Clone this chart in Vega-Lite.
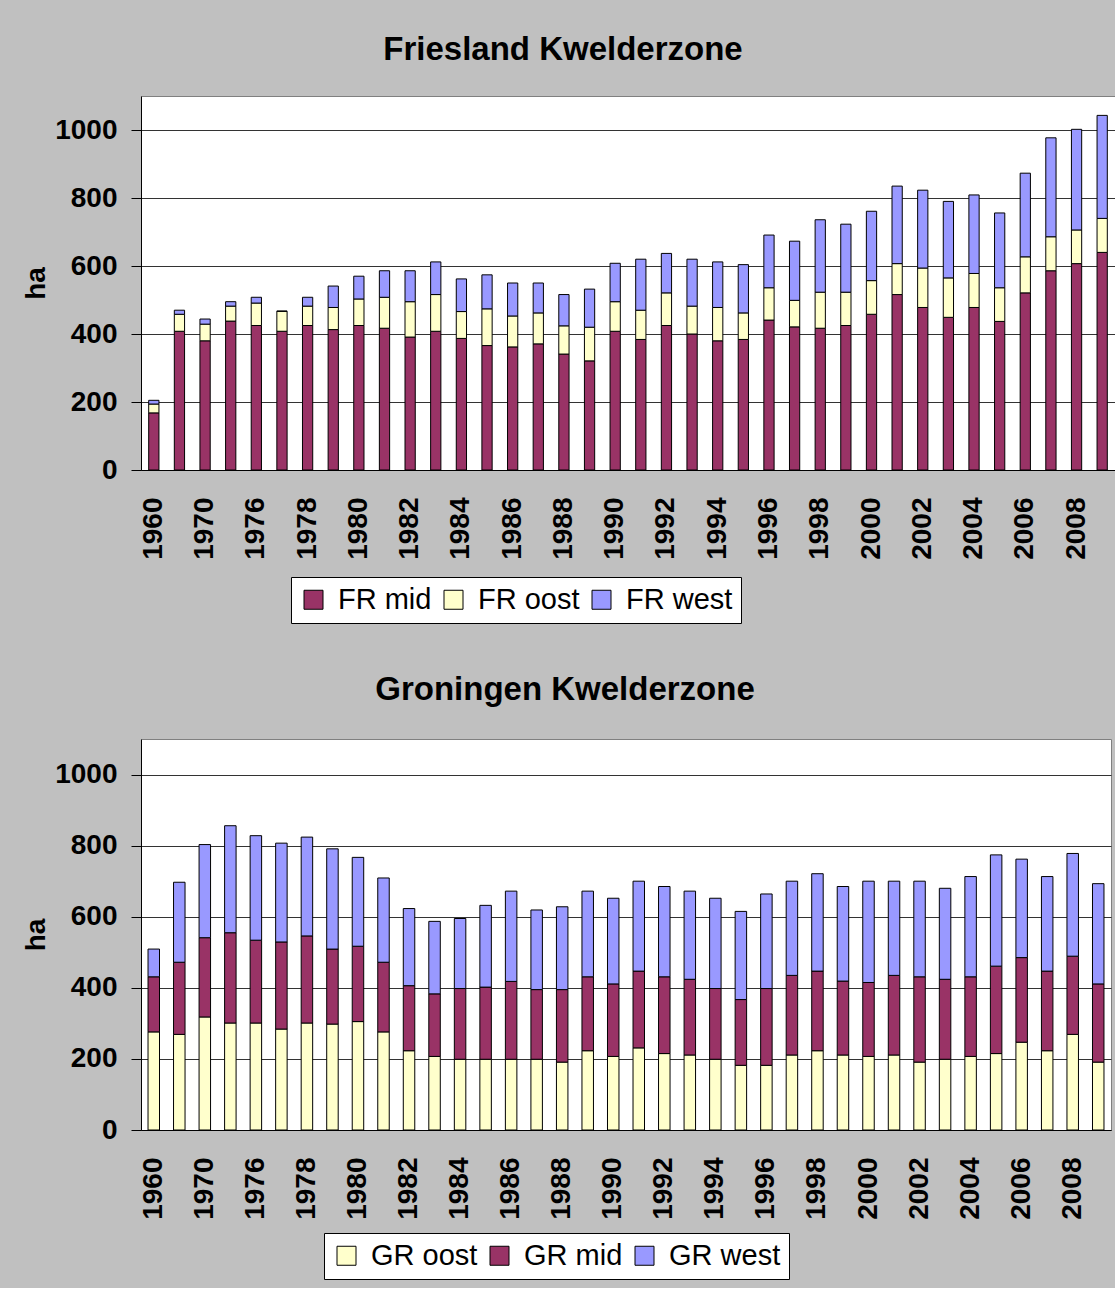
{
  "$schema": "https://vega.github.io/schema/vega-lite/v6.json",
  "background": "#c0c0c0",
  "padding": {"left": 22, "top": 33, "right": 0, "bottom": 8},
  "spacing": 49,
  "config": {
    "font": "Liberation Sans",
    "view": {"fill": "white", "stroke": "#808080", "strokeWidth": 1},
    "title": {"fontSize": 33, "fontWeight": "bold", "color": "black", "anchor": "middle", "offset": 29},
    "axisX": {"labelAngle": 270, "labelFontSize": 28, "labelFontWeight": "bold", "labelColor": "black", "domainColor": "black", "ticks": false, "labelPadding": 27, "grid": false},
    "axisY": {"labelFontSize": 28, "labelFontWeight": "bold", "labelColor": "black", "domainColor": "black", "tickColor": "black", "tickSize": 10, "labelPadding": 14, "gridColor": "#333333", "gridOpacity": 1, "titleFontSize": 28, "titleFontWeight": "bold", "titleColor": "black", "titlePadding": 4, "format": "d"},
    "legend": {"fillColor": "white", "strokeColor": "black", "padding": 8, "symbolType": "square", "symbolSize": 361, "symbolStrokeColor": "black", "symbolStrokeWidth": 1, "labelFontSize": 29, "labelColor": "black", "labelOffset": 10, "columnPadding": 7, "direction": "horizontal", "orient": "none", "title": null}
  },
  "datasets": {
    "grrank": [
      {"series": "GR oost", "rank": 1},
      {"series": "GR mid", "rank": 2},
      {"series": "GR west", "rank": 3}
    ],
    "fr": [
      {"year": "1960", "FR mid": 168, "FR oost": 26, "FR west": 11},
      {"year": "1965", "FR mid": 408, "FR oost": 50, "FR west": 12},
      {"year": "1970", "FR mid": 380, "FR oost": 49, "FR west": 15},
      {"year": "1975", "FR mid": 438, "FR oost": 44, "FR west": 13},
      {"year": "1976", "FR mid": 425, "FR oost": 66, "FR west": 17},
      {"year": "1977", "FR mid": 408, "FR oost": 59, "FR west": 0},
      {"year": "1978", "FR mid": 425, "FR oost": 57, "FR west": 26},
      {"year": "1979", "FR mid": 413, "FR oost": 65, "FR west": 63},
      {"year": "1980", "FR mid": 425, "FR oost": 78, "FR west": 67},
      {"year": "1981", "FR mid": 417, "FR oost": 91, "FR west": 78},
      {"year": "1982", "FR mid": 391, "FR oost": 104, "FR west": 91},
      {"year": "1983", "FR mid": 408, "FR oost": 108, "FR west": 96},
      {"year": "1984", "FR mid": 387, "FR oost": 79, "FR west": 96},
      {"year": "1985", "FR mid": 366, "FR oost": 108, "FR west": 100},
      {"year": "1986", "FR mid": 362, "FR oost": 91, "FR west": 97},
      {"year": "1987", "FR mid": 371, "FR oost": 91, "FR west": 88},
      {"year": "1988", "FR mid": 341, "FR oost": 83, "FR west": 92},
      {"year": "1989", "FR mid": 321, "FR oost": 99, "FR west": 112},
      {"year": "1990", "FR mid": 408, "FR oost": 87, "FR west": 113},
      {"year": "1991", "FR mid": 384, "FR oost": 86, "FR west": 150},
      {"year": "1992", "FR mid": 425, "FR oost": 96, "FR west": 116},
      {"year": "1993", "FR mid": 400, "FR oost": 82, "FR west": 138},
      {"year": "1994", "FR mid": 380, "FR oost": 98, "FR west": 134},
      {"year": "1995", "FR mid": 384, "FR oost": 78, "FR west": 142},
      {"year": "1996", "FR mid": 441, "FR oost": 95, "FR west": 155},
      {"year": "1997", "FR mid": 421, "FR oost": 78, "FR west": 174},
      {"year": "1998", "FR mid": 417, "FR oost": 106, "FR west": 213},
      {"year": "1999", "FR mid": 425, "FR oost": 98, "FR west": 200},
      {"year": "2000", "FR mid": 458, "FR oost": 99, "FR west": 204},
      {"year": "2001", "FR mid": 516, "FR oost": 91, "FR west": 228},
      {"year": "2002", "FR mid": 478, "FR oost": 116, "FR west": 229},
      {"year": "2003", "FR mid": 449, "FR oost": 116, "FR west": 225},
      {"year": "2004", "FR mid": 478, "FR oost": 100, "FR west": 231},
      {"year": "2005", "FR mid": 437, "FR oost": 99, "FR west": 220},
      {"year": "2006", "FR mid": 521, "FR oost": 106, "FR west": 246},
      {"year": "2007", "FR mid": 586, "FR oost": 100, "FR west": 291},
      {"year": "2008", "FR mid": 607, "FR oost": 99, "FR west": 296},
      {"year": "2009", "FR mid": 640, "FR oost": 100, "FR west": 303}
    ],
    "gr": [
      {"year": "1960", "GR oost": 276, "GR mid": 155, "GR west": 78},
      {"year": "1965", "GR oost": 269, "GR mid": 203, "GR west": 225},
      {"year": "1970", "GR oost": 318, "GR mid": 223, "GR west": 262},
      {"year": "1975", "GR oost": 301, "GR mid": 254, "GR west": 301},
      {"year": "1976", "GR oost": 301, "GR mid": 233, "GR west": 294},
      {"year": "1977", "GR oost": 284, "GR mid": 245, "GR west": 278},
      {"year": "1978", "GR oost": 301, "GR mid": 245, "GR west": 278},
      {"year": "1979", "GR oost": 298, "GR mid": 211, "GR west": 282},
      {"year": "1980", "GR oost": 305, "GR mid": 212, "GR west": 250},
      {"year": "1981", "GR oost": 276, "GR mid": 196, "GR west": 237},
      {"year": "1982", "GR oost": 223, "GR mid": 183, "GR west": 217},
      {"year": "1983", "GR oost": 207, "GR mid": 176, "GR west": 204},
      {"year": "1984", "GR oost": 199, "GR mid": 199, "GR west": 197},
      {"year": "1985", "GR oost": 199, "GR mid": 203, "GR west": 230},
      {"year": "1986", "GR oost": 199, "GR mid": 219, "GR west": 254},
      {"year": "1987", "GR oost": 199, "GR mid": 196, "GR west": 224},
      {"year": "1988", "GR oost": 191, "GR mid": 204, "GR west": 233},
      {"year": "1989", "GR oost": 223, "GR mid": 208, "GR west": 241},
      {"year": "1990", "GR oost": 207, "GR mid": 204, "GR west": 241},
      {"year": "1991", "GR oost": 231, "GR mid": 216, "GR west": 253},
      {"year": "1992", "GR oost": 215, "GR mid": 216, "GR west": 254},
      {"year": "1993", "GR oost": 211, "GR mid": 213, "GR west": 248},
      {"year": "1994", "GR oost": 199, "GR mid": 199, "GR west": 254},
      {"year": "1995", "GR oost": 182, "GR mid": 185, "GR west": 248},
      {"year": "1996", "GR oost": 182, "GR mid": 216, "GR west": 266},
      {"year": "1997", "GR oost": 211, "GR mid": 224, "GR west": 265},
      {"year": "1998", "GR oost": 223, "GR mid": 224, "GR west": 274},
      {"year": "1999", "GR oost": 211, "GR mid": 208, "GR west": 266},
      {"year": "2000", "GR oost": 207, "GR mid": 208, "GR west": 285},
      {"year": "2001", "GR oost": 211, "GR mid": 224, "GR west": 265},
      {"year": "2002", "GR oost": 191, "GR mid": 240, "GR west": 269},
      {"year": "2003", "GR oost": 199, "GR mid": 225, "GR west": 256},
      {"year": "2004", "GR oost": 207, "GR mid": 224, "GR west": 282},
      {"year": "2005", "GR oost": 215, "GR mid": 246, "GR west": 313},
      {"year": "2006", "GR oost": 247, "GR mid": 238, "GR west": 277},
      {"year": "2007", "GR oost": 223, "GR mid": 224, "GR west": 266},
      {"year": "2008", "GR oost": 269, "GR mid": 220, "GR west": 289},
      {"year": "2009", "GR oost": 191, "GR mid": 220, "GR west": 282}
    ]
  },
  "vconcat": [
    {
      "width": 974,
      "height": 374,
      "title": {"text": "Friesland Kwelderzone", "dx": -65},
      "data": {"name": "fr"},
      "transform": [{"fold": ["FR mid", "FR oost", "FR west"], "as": ["series", "value"]}],
      "mark": {"type": "bar", "stroke": "black", "strokeWidth": 1},
      "encoding": {
        "x": {"field": "year", "type": "ordinal", "scale": {"paddingInner": 0.6, "paddingOuter": 0.3},
              "axis": {"title": null, "values": ["1960","1970","1976","1978","1980","1982","1984","1986","1988","1990","1992","1994","1996","1998","2000","2002","2004","2006","2008"]}},
        "y": {"field": "value", "type": "quantitative", "stack": "zero", "scale": {"domain": [0, 1100], "nice": false},
              "axis": {"title": "ha", "values": [0, 200, 400, 600, 800, 1000]}},
        "order": {"field": "series", "sort": "ascending"},
        "color": {"field": "series", "type": "nominal",
                  "scale": {"domain": ["FR mid", "FR oost", "FR west"], "range": ["#993366", "#ffffcc", "#9999ff"]},
                  "legend": {"legendX": 150, "legendY": 481}}
      }
    },
    {
      "width": 970,
      "height": 391,
      "title": {"text": "Groningen Kwelderzone", "dx": -61, "offset": 32},
      "data": {"name": "gr"},
      "transform": [
        {"fold": ["GR oost", "GR mid", "GR west"], "as": ["series", "value"]},
        {"lookup": "series", "from": {"data": {"name": "grrank"}, "key": "series", "fields": ["rank"]}}
      ],
      "mark": {"type": "bar", "stroke": "black", "strokeWidth": 1},
      "encoding": {
        "x": {"field": "year", "type": "ordinal", "scale": {"paddingInner": 0.55, "paddingOuter": 0.275},
              "axis": {"title": null, "values": ["1960","1970","1976","1978","1980","1982","1984","1986","1988","1990","1992","1994","1996","1998","2000","2002","2004","2006","2008"]}},
        "y": {"field": "value", "type": "quantitative", "stack": "zero", "scale": {"domain": [0, 1100], "nice": false},
              "axis": {"title": "ha", "values": [0, 200, 400, 600, 800, 1000]}},
        "order": {"field": "rank", "type": "quantitative", "sort": "ascending"},
        "color": {"field": "series", "type": "nominal",
                  "scale": {"domain": ["GR oost", "GR mid", "GR west"], "range": ["#ffffcc", "#993366", "#9999ff"]},
                  "legend": {"legendX": 183, "legendY": 494}}
      }
    }
  ],
  "resolve": {"scale": {"color": "independent"}, "legend": {"color": "independent"}}
}
